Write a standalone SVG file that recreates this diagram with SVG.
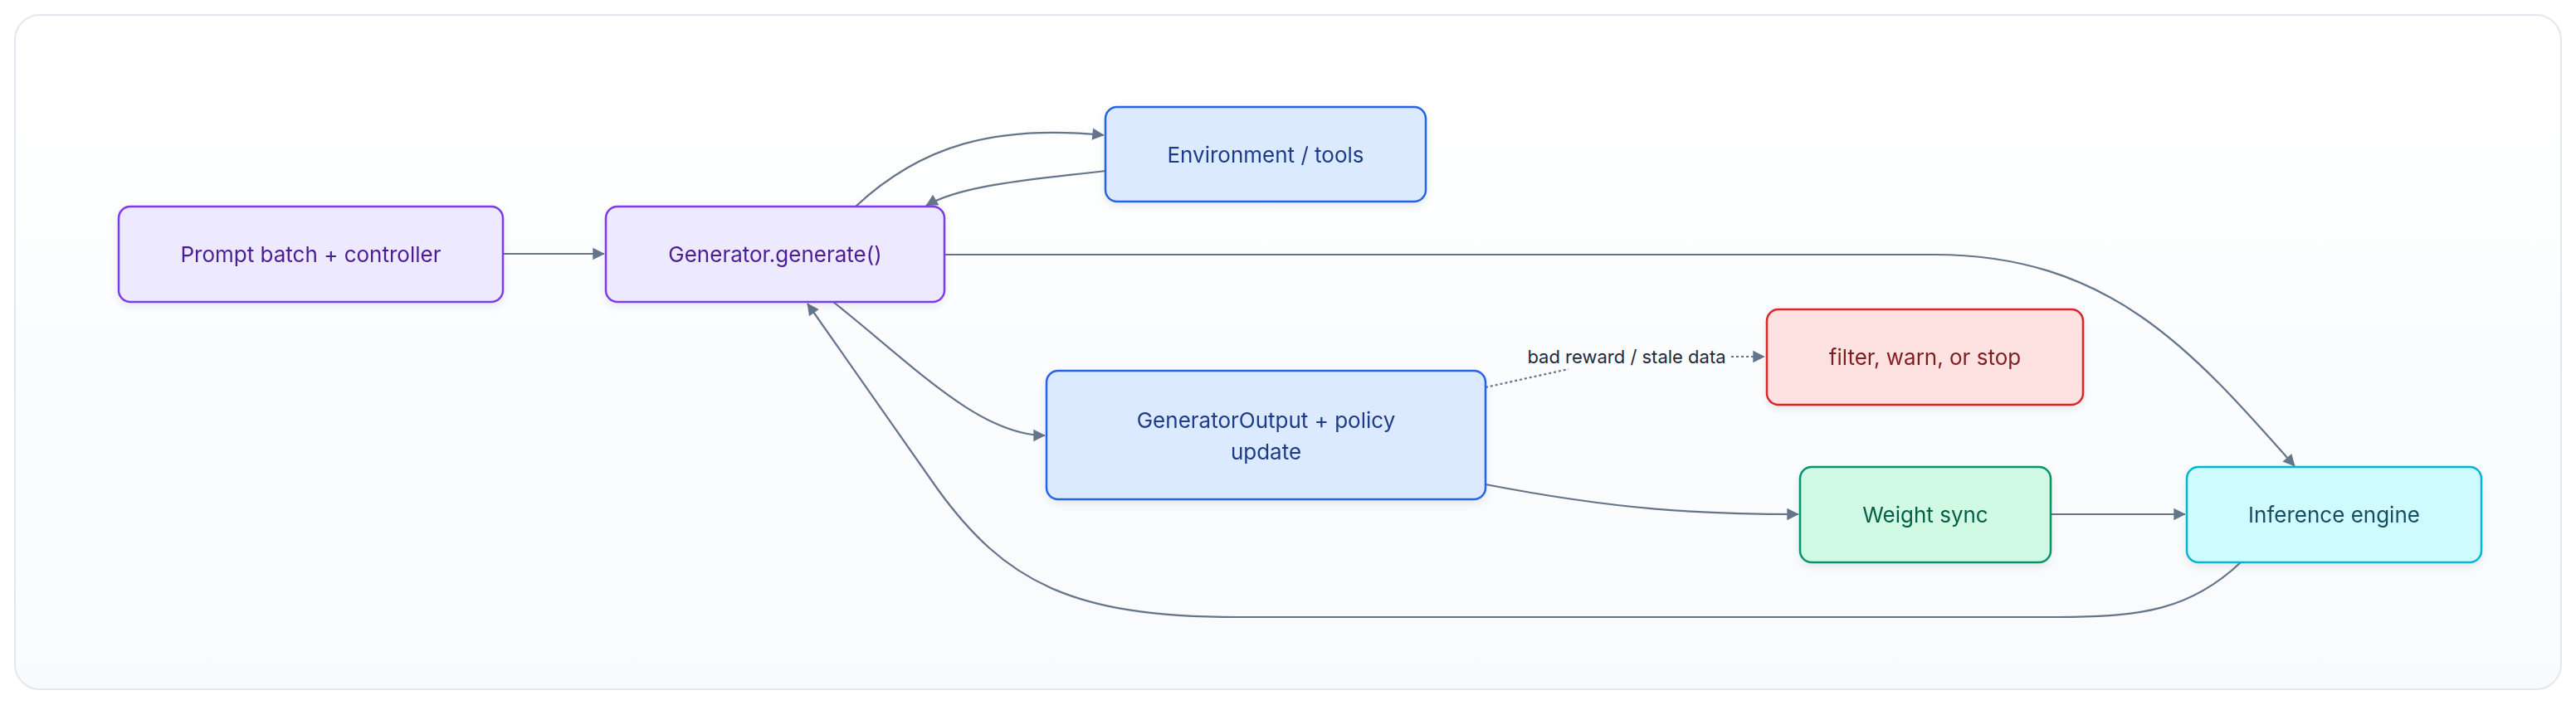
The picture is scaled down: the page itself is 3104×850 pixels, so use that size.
<svg xmlns="http://www.w3.org/2000/svg" width="3104" height="850" viewBox="0 0 3104 850">
<defs>
<style>
.n{stroke-width:2.5}
.t{font-family:Inter,"Liberation Sans",sans-serif;font-size:26px;text-anchor:middle;dominant-baseline:central}
.e{fill:none;stroke:#64748b;stroke-width:2.2}
.p rect{fill:#ede9fe;stroke:#7c3aed}.p text{fill:#4c1d95}
.b rect{fill:#dbeafe;stroke:#2563eb}.b text{fill:#1e3a8a}
.r rect{fill:#fee2e2;stroke:#dc2626}.r text{fill:#7f1d1d}
.g rect{fill:#d1fae5;stroke:#059669}.g text{fill:#065f46}
.c rect{fill:#cffafe;stroke:#06b6d4}.c text{fill:#164e63}
</style>
<marker id="a" viewBox="0 0 10 10" refX="9" refY="5" markerWidth="8" markerHeight="8" markerUnits="userSpaceOnUse" orient="auto" style="overflow:visible"><path d="M0,0 L10,5 L0,10 z" fill="#64748b" transform="scale(1.8) translate(-4.5,-2.2)"/></marker>
<filter id="s" x="-10%" y="-10%" width="120%" height="140%"><feDropShadow dx="0" dy="4" stdDeviation="5" flood-color="#0f172a" flood-opacity="0.08"/></filter>
<linearGradient id="bg" x1="0" y1="0" x2="0" y2="1"><stop offset="0" stop-color="#ffffff"/><stop offset="1" stop-color="#f8fafc"/></linearGradient>
</defs>
<rect x="0" y="0" width="3104" height="850" fill="#ffffff"/>
<rect x="18" y="18" width="3068" height="813" rx="30" fill="url(#bg)" stroke="#e2e8f0" stroke-width="2"/>
<g id="connectors">
<path class="e" d="M606,306 L728,306" marker-end="url(#a)"/>
<path class="e" d="M1031,249 C1110,175 1200,150 1330,163" marker-end="url(#a)"/>
<path class="e" d="M1332,206 C1250,216 1160,222 1116,248" marker-end="url(#a)"/>
<path class="e" d="M1138,307 L2330,307 C2540,307 2640,420 2765,562" marker-end="url(#a)"/>
<path class="e" d="M1004,364 C1100,440 1180,525 1259,525" marker-end="url(#a)"/>
<path class="e" d="M1790,584 C1950,615 2050,620 2167,620" marker-end="url(#a)"/>
<path class="e" d="M2471,620 L2633,620" marker-end="url(#a)"/>
<path class="e" d="M2700,678 C2640,735 2580,744 2480,744 L1490,744 C1290,744 1210,700 1130,590 L973,366" marker-end="url(#a)"/>
<path class="e" d="M1790,467 L1890,445" stroke-dasharray="3,3" stroke-width="2"/>
<path class="e" d="M2086,430 L2126,430" stroke-dasharray="3,3" stroke-width="2" marker-end="url(#a)"/>
<text class="t" x="1960" y="430" font-size="22" style="font-size:22px" fill="#1e293b">bad reward / stale data</text>
</g>
<g id="prompt" class="p" filter="url(#s)"><rect class="n" x="143" y="249" width="463" height="115" rx="14"/><text class="t" x="374.5" y="306.5">Prompt batch + controller</text></g>
<g id="generator" class="p" filter="url(#s)"><rect class="n" x="730" y="249" width="408" height="115" rx="14"/><text class="t" x="934" y="306.5">Generator.generate()</text></g>
<g id="environment" class="b" filter="url(#s)"><rect class="n" x="1332" y="129" width="386" height="114" rx="14"/><text class="t" x="1525" y="186">Environment / tools</text></g>
<g id="output" class="b" filter="url(#s)"><rect class="n" x="1261" y="447" width="529" height="155" rx="14"/><text class="t" x="1525.5" y="506">GeneratorOutput + policy</text><text class="t" x="1525.5" y="544">update</text></g>
<g id="filter" class="r" filter="url(#s)"><rect class="n" x="2129" y="373" width="381" height="115" rx="14"/><text class="t" x="2319.5" y="430.5">filter, warn, or stop</text></g>
<g id="weight" class="g" filter="url(#s)"><rect class="n" x="2169" y="563" width="302" height="115" rx="14"/><text class="t" x="2320" y="620.5">Weight sync</text></g>
<g id="inference" class="c" filter="url(#s)"><rect class="n" x="2635" y="563" width="355" height="115" rx="14"/><text class="t" x="2812.5" y="620.5">Inference engine</text></g>
</svg>
